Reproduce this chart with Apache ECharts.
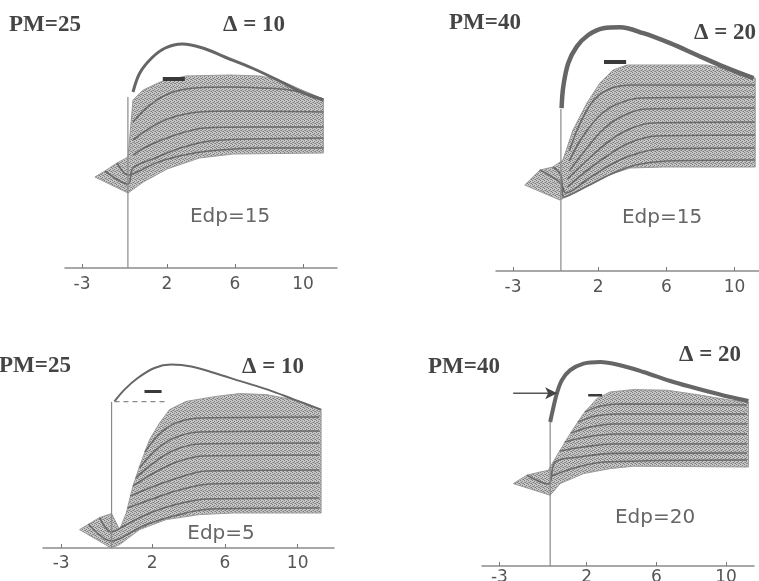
<!DOCTYPE html>
<html>
<head>
<meta charset="utf-8">
<script src="https://cdn.jsdelivr.net/npm/echarts@6/dist/echarts.min.js"></script>
<style>
html, body { margin: 0; padding: 0; background: #fff; }
#chart { width: 759px; height: 581px; }
</style>
</head>
<body>
<div id="chart"></div>
<script>
// tick labels shared by all four panels
var xTicks = [-3, 2, 6, 10];

// panel A : PM=25, delta 10, Edp=15
var peakA = [[0,88],[0.4,97.5],[1.1,105],[1.9,110],[2.9,112],[4.1,110],[5.4,105.5],[7.0,100],[8.5,94],[9.9,88],[11.2,84]];
var bandTopA = [[-2.24,45.5],[-1.65,48.5],[-0.94,52.5],[-0.29,55.5],[0,84],[0.6,89],[1.6,93],[3.1,96],[5.7,96.5],[7.5,96],[8.6,94],[9.8,89.5],[11.2,84.5]];
var bandBotA = [[-2.24,45.5],[-0.29,37.5],[0.6,43],[2.0,49.5],[3.9,55],[5.9,57],[11.2,57.5]];
var tracesA = [
    [[0,73],[1.0,81.5],[2.2,87.5],[3.65,90],[5.7,90.5],[7.5,90],[9.2,89],[11.2,84.5]],
    [[0,64],[1.0,70],[2.2,75],[3.9,78],[6.3,78.5],[11.2,78]],
    [[0,56.5],[1.0,61.5],[2.5,66.5],[4.2,70],[6.9,70.5],[11.2,70.5]],
    [[-1.65,48.5],[-0.29,42],[0,50],[1.3,55],[2.8,60],[4.5,63.5],[6.9,64.5],[11.2,65]],
    [[-0.94,52.5],[-0.29,46.5],[0,47],[1.5,53],[3.3,57],[5.1,59],[7.5,60],[11.2,60]]
];
var onsetA = [[-0.3,0],[-0.3,85.5]];
var barA = [[1.75,94.5],[3.05,94.5]];

// panel B : PM=40, delta 20, Edp=15
var peakB = [[-0.15,81.4],[-0.05,92.2],[0.24,103.9],[0.74,112.2],[1.42,118],[2.3,121.4],[3.28,121.9],[4.65,118.9],[6.22,113.9],[7.79,108],[9.36,102.2],[11.12,96.4]];
var bandTopB = [[-2.31,43],[-1.42,50.5],[-0.66,52],[-0.07,55.5],[0.52,70.5],[1.34,84],[2.1,94],[2.87,100.5],[3.69,103],[8.4,103],[9.75,100.5],[11.22,96.5]];
var bandBotB = [[-2.31,43],[-0.25,35.5],[0.93,40.5],[2.28,47],[3.87,51.5],[5.81,52],[11.22,52]];
var tracesB = [
    [[0.3,60],[1.0,75],[1.8,86],[2.8,91.5],[4,93],[11.2,93]],
    [[0.3,55],[1.0,66],[2.0,77],[3,83],[4.5,86.5],[11.2,87]],
    [[0.3,50],[1.2,60],[2.2,70],[3.3,77],[4.8,81],[11.2,81.5]],
    [[0.2,46],[1.3,55],[2.5,64],[3.7,70.5],[5.2,74],[11.2,74.5]],
    [[0.2,42],[1.3,50],[2.6,58],[3.8,64],[5.4,67.5],[11.2,68]],
    [[-1.42,50.5],[-0.2,44],[0.1,39],[1.4,46],[2.7,53],[4,58],[5.6,61],[11.2,61.5]],
    [[-0.66,52],[-0.2,48],[0,37],[1.5,43],[2.9,49],[4.2,53],[6,55],[11.2,55.5]]
];
var onsetB = [[-0.19,0],[-0.19,81]];
var barB = [[2.34,104.5],[3.64,104.5]];

// panel C : PM=25, delta 10, Edp=5
var peakC = [[-0.07,73.3],[0.48,79.2],[1.21,85],[2.13,90],[3.05,91.7],[4.15,90.8],[5.43,87.5],[6.9,83.3],[8.36,79.2],[9.82,74.2],[11.29,69.2]];
var bandTopC = [[-1.99,9.2],[-0.89,15.2],[-0.23,17.2],[0.21,9.2],[0.58,17.5],[0.94,30.8],[1.31,40.8],[1.86,54.2],[2.41,62.5],[2.96,69.2],[3.87,73.3],[5.52,75.8],[6.8,77.2],[8.27,76.7],[9.73,74.2],[11.29,69.2]];
var bandBotC = [[-1.99,9.2],[-0.25,0],[0.21,1.7],[1.31,9.2],[2.77,14.2],[4.6,16.7],[6.43,17.5],[11.29,17.5]];
var tracesC = [
    [[1.6,48],[2.4,57],[3.3,62.5],[4.6,65],[11.2,65.5]],
    [[1.3,40],[2.2,49],[3.2,55],[4.6,58],[11.2,58.5]],
    [[1.1,35],[2.0,42],[3.1,48.5],[4.6,52],[11.2,52.5]],
    [[0.95,31],[2.0,37],[3.2,42.5],[4.8,46],[11.2,46.5]],
    [[0.8,26],[2.0,30.5],[3.4,35],[5,38.5],[11.2,39]],
    [[0.65,20],[2.0,24.5],[3.5,29],[5.2,32],[11.2,32.5]],
    [[-0.89,15.2],[-0.25,8],[0.45,11],[1.5,16],[3,21],[5,24.5],[11.2,25]],
    [[-1.5,12],[-0.25,3.5],[0.3,5],[1.5,11],[3.2,16],[5.2,19.5],[11.2,20]]
];
var onsetC = [[-0.23,0],[-0.23,73]];
var dashC = [[-0.07,73.2],[2.79,73.2]];
var barC = [[1.58,78.2],[2.52,78.2]];

// panel D : PM=40, delta 20, Edp=20
var peakD = [[-0.09,72],[0.1,79.5],[0.29,86.2],[0.58,92.9],[1.06,97.9],[1.82,101.2],[2.78,102],[3.92,100.4],[5.26,97],[6.98,92],[8.7,87.9],[10.23,84.5],[11.28,82.5]];
var bandTopD = [[-2.2,41.2],[-1.43,45.4],[-0.67,47],[-0.19,47.9],[-0.09,49.5],[0.48,57.9],[1.06,66.2],[1.82,76.2],[2.59,83.7],[3.35,87],[4.68,88.2],[6.6,87.9],[8.55,85.4],[10.27,82.9],[11.28,82]];
var bandBotD = [[-2.2,41.2],[-0.09,35.4],[0.48,41.2],[1.82,46.2],[3.35,48.7],[4.68,49.9],[11.28,49.5]];
var tracesD = [
    [[1.9,77],[2.8,80],[4,81],[11.2,80.5]],
    [[1.5,72],[2.5,75],[3.8,76],[11.2,76]],
    [[1.1,66.5],[2.2,69.5],[3.6,71],[11.2,71]],
    [[0.75,62],[2.0,64.5],[3.6,66],[11.2,66]],
    [[0.45,57.5],[1.8,59.5],[3.5,61],[11.2,61]],
    [[-1.43,45.4],[-0.2,41],[0.2,52],[1.6,54.5],[3.5,56.3],[11.2,56.5]],
    [[0,45],[1.3,49],[3,52],[11.2,53]]
];
var onsetD = [[-0.09,0],[-0.09,72]];
var arrowD = [[-2.21,86.4],[0.31,86.4]];
var barD = [[2.09,85.4],[2.89,85.4]];

var panels = [
    {peak: peakA, top: bandTopA, bot: bandBotA, traces: tracesA, onset: onsetA, bar: barA, peakWidth: 3, barWidth: 4},
    {peak: peakB, top: bandTopB, bot: bandBotB, traces: tracesB, onset: onsetB, bar: barB, peakWidth: 4.5, barWidth: 4},
    {peak: peakC, top: bandTopC, bot: bandBotC, traces: tracesC, onset: onsetC, bar: barC, peakWidth: 2, barWidth: 3},
    {peak: peakD, top: bandTopD, bot: bandBotD, traces: tracesD, onset: onsetD, bar: barD, peakWidth: 4, barWidth: 2.5}
];

// grid boxes (px) and axis ranges for the four panels
var grids = [
    {left: 65, top: 28, width: 272, height: 240, outerBoundsMode: 'none'},
    {left: 496, top: 21, width: 264, height: 250, outerBoundsMode: 'none'},
    {left: 43, top: 348, width: 291, height: 200, outerBoundsMode: 'none'},
    {left: 482, top: 346, width: 272, height: 220, outerBoundsMode: 'none'}
];
var xMax = [12, 11.5, 12, 11.6];
var yMax = [120, 125, 100, 110];

// stippled fill, like the screened grey of the printed figure
var stipple = document.createElement('canvas');
stipple.width = 4;
stipple.height = 4;
(function () {
    var ctx = stipple.getContext('2d');
    ctx.fillStyle = '#c6c6c6';
    ctx.fillRect(0, 0, 4, 4);
    ctx.fillStyle = '#7c7c7c';
    ctx.fillRect(0, 0, 1, 1);
    ctx.fillRect(2, 1, 1, 1);
    ctx.fillRect(1, 2, 1, 1);
    ctx.fillRect(3, 3, 1, 1);
    ctx.fillStyle = '#9c9c9c';
    ctx.fillRect(2, 3, 1, 1);
    ctx.fillRect(0, 2, 1, 1);
})();

function line(i, data, color, width, z, smooth) {
    return {
        type: 'line', xAxisIndex: i, yAxisIndex: i, data: data,
        symbol: 'none', showSymbol: false, silent: true, z: z,
        smooth: smooth === false ? false : 0.35,
        lineStyle: {color: color, width: width}
    };
}

var series = [];
panels.forEach(function (p, i) {
    series.push({
        type: 'custom', xAxisIndex: i, yAxisIndex: i, z: 1, silent: true,
        data: [[0, 0]],
        renderItem: function (params, api) {
            var pts = p.top.concat(p.bot.slice().reverse()).map(function (d) { return api.coord(d); });
            return {type: 'polygon', shape: {points: pts},
                style: {fill: {image: stipple, repeat: 'repeat'}, stroke: '#9a9a9a', lineWidth: 1}};
        }
    });
    p.traces.forEach(function (t) {
        series.push(line(i, t, '#6a6a6a', 1.6, 2));
    });
    series.push(line(i, p.peak, '#666666', p.peakWidth, 3));
    series.push(line(i, p.onset, '#8a8a8a', 1.2, 3, false));
    series.push(line(i, p.bar, '#3a3a3a', p.barWidth, 4, false));
});
var dash = line(2, dashC, '#8a8a8a', 1.2, 3, false);
dash.lineStyle.type = [5, 4];
series.push(dash);
var arrow = line(3, arrowD, '#555', 1.5, 4, false);
arrow.showSymbol = true;
arrow.data = [{value: arrowD[0], symbol: 'none'}, {value: arrowD[1], symbol: 'arrow', symbolRotate: -90, symbolSize: [9, 12]}];
arrow.itemStyle = {color: '#444'};
series.push(arrow);

var labelMargin = [8, 8, 7, 3];

var serif = 'bold 23px "Liberation Serif", "DejaVu Serif", serif';
var sans = '20px "DejaVu Sans", sans-serif';
function txt(s, x, y, font, color) {
    return {type: 'text', x: x, y: y, silent: true,
        style: {text: s, font: font, fill: color, align: 'center', verticalAlign: 'middle'}};
}

option = {
    animation: false,
    backgroundColor: '#ffffff',
    grid: grids,
    xAxis: grids.map(function (g, i) {
        return {
            gridIndex: i, type: 'value', min: -4, max: xMax[i],
            splitLine: {show: false},
            axisLine: {show: true, onZero: false, lineStyle: {color: '#8c8c8c', width: 1.5}},
            axisTick: {show: true, inside: true, length: 4, customValues: xTicks, lineStyle: {color: '#777'}},
            axisLabel: {customValues: xTicks, margin: labelMargin[i], fontSize: 17,
                fontFamily: 'DejaVu Sans', color: '#555'}
        };
    }),
    yAxis: grids.map(function (g, i) {
        return {gridIndex: i, type: 'value', min: 0, max: yMax[i], show: false, splitLine: {show: false}};
    }),
    graphic: [
        txt('PM=25', 45, 25, serif, '#444'),
        txt('\u0394 = 10', 254, 25, serif, '#444'),
        txt('Edp=15', 230, 217, sans, '#666'),
        txt('PM=40', 485, 23, serif, '#444'),
        txt('\u0394 = 20', 725, 33, serif, '#444'),
        txt('Edp=15', 662, 218, sans, '#666'),
        txt('PM=25', 35, 366, serif, '#444'),
        txt('\u0394 = 10', 273, 367, serif, '#444'),
        txt('Edp=5', 221, 534, sans, '#666'),
        txt('PM=40', 464, 367, serif, '#444'),
        txt('\u0394 = 20', 710, 355, serif, '#444'),
        txt('Edp=20', 655, 518, sans, '#666')
    ],
    series: series
};

var chart = echarts.init(document.getElementById('chart'));
chart.setOption(option);
</script>
</body>
</html>
